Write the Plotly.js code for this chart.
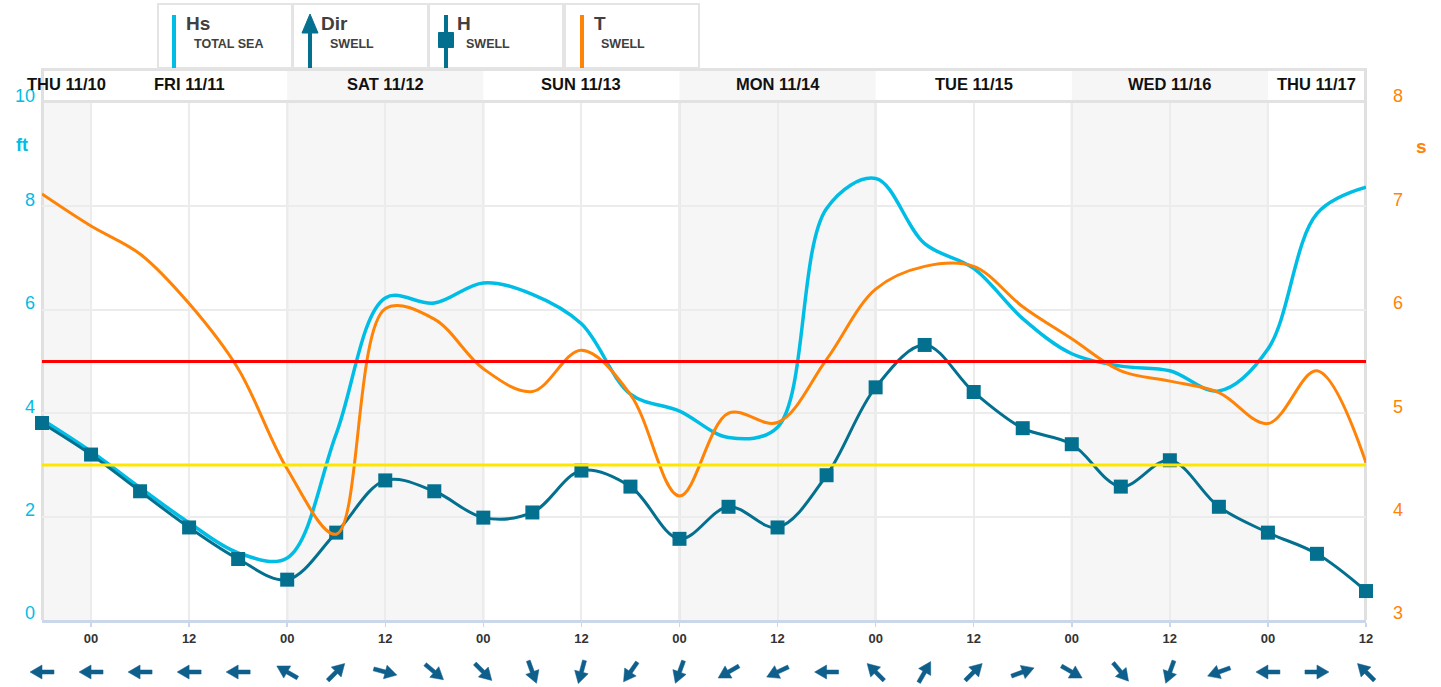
<!DOCTYPE html>
<html>
<head>
<meta charset="utf-8">
<script src="https://cdn.plot.ly/plotly-3.0.1.min.js"></script>
<style>
html,body{margin:0;padding:0;background:#fff;}
#chart{width:1441px;height:687px;}
</style>
</head>
<body>
<div id="chart"></div>
<script>
// ---- data ----
const times = [
 '2022-11-10 18:00',
 '2022-11-11 00:00','2022-11-11 06:00','2022-11-11 12:00','2022-11-11 18:00',
 '2022-11-12 00:00','2022-11-12 06:00','2022-11-12 12:00','2022-11-12 18:00',
 '2022-11-13 00:00','2022-11-13 06:00','2022-11-13 12:00','2022-11-13 18:00',
 '2022-11-14 00:00','2022-11-14 06:00','2022-11-14 12:00','2022-11-14 18:00',
 '2022-11-15 00:00','2022-11-15 06:00','2022-11-15 12:00','2022-11-15 18:00',
 '2022-11-16 00:00','2022-11-16 06:00','2022-11-16 12:00','2022-11-16 18:00',
 '2022-11-17 00:00','2022-11-17 06:00','2022-11-17 12:00'
];
const hsTotal = [3.88,3.26,2.56,1.88,1.3,1.2,3.6,6.23,6.13,6.52,6.3,5.73,4.37,4.04,3.53,3.73,7.96,8.54,7.28,6.8,5.83,5.15,4.91,4.82,4.43,5.24,7.86,8.37];
const hSwell = [3.81,3.2,2.49,1.79,1.18,0.78,1.69,2.7,2.49,1.98,2.08,2.89,2.58,1.57,2.19,1.79,2.8,4.5,5.32,4.41,3.71,3.4,2.58,3.09,2.19,1.69,1.28,0.56];
const tSwell = [7.12,6.81,6.54,6.06,5.43,4.46,3.83,6.01,5.91,5.43,5.21,5.61,5.18,4.2,5.0,4.91,5.52,6.2,6.42,6.42,6.03,5.72,5.41,5.31,5.2,4.9,5.41,4.52];
// direction the arrow points to, compass degrees (0 = up, 90 = right)
const swellDir = [270,270,270,270,270,300,45,105,130,135,160,195,215,200,240,245,270,315,30,45,70,120,140,200,250,270,90,315];
const thresholdRed = [5];
const thresholdYellow = [3];
const dayLabels = ['THU 11/10','FRI 11/11','SAT 11/12','SUN 11/13','MON 11/14','TUE 11/15','WED 11/16','THU 11/17'];
const dayStarts = ['2022-11-10 00:00','2022-11-11 00:00','2022-11-12 00:00','2022-11-13 00:00','2022-11-14 00:00','2022-11-15 00:00','2022-11-16 00:00','2022-11-17 00:00'];
const dayShadedPlot = [true,false,true,false,true,false,true,false];
const dayShadedHead = [false,false,true,false,true,false,true,false];
const xRange = ['2022-11-10 18:00','2022-11-17 12:00'];

// ---- colours / layout helpers ----
const C_HS = '#00bde5', C_H = '#03708f', C_T = '#ff8307', C_DIR = '#0f5f8c';
const FONT = 'Liberation Sans, Arial, sans-serif';
const L = 42, R = 1366, T = 103, B = 620;
const PX = px => (px - L) / (R - L);
const PY = py => (B - py) / (B - T);
const ms = s => Date.parse(s.replace(' ', 'T') + ':00Z');
const toStr = m => new Date(m).toISOString().slice(0, 16).replace('T', ' ');

const shapes = [];
const annotations = [];

// day shading + header
const r0 = ms(xRange[0]), r1 = ms(xRange[1]);
dayStarts.forEach((d, i) => {
  const s = Math.max(ms(d), r0), e = Math.min(ms(d) + 86400000, r1);
  if (dayShadedPlot[i]) shapes.push({type:'rect', xref:'x', yref:'paper', x0:toStr(s), x1:toStr(e), y0:0, y1:1, fillcolor:'#f6f6f6', line:{width:0}, layer:'below'});
  if (dayShadedHead[i]) shapes.push({type:'rect', xref:'x', yref:'paper', x0:toStr(s), x1:toStr(e), y0:PY(101), y1:PY(70), fillcolor:'#f6f6f6', line:{width:0}, layer:'below'});
  if (i > 0) shapes.push({type:'line', xref:'x', yref:'paper', x0:d, x1:d, y0:0, y1:1, line:{color:'#dcdcdc', width:2}, layer:'below'});
  annotations.push({xref:'x', yref:'paper', x:toStr((s + e) / 2), y:PY(84), text:dayLabels[i], showarrow:false,
    font:{family:FONT, size:16.5, color:'#111', weight:'bold'}, xanchor:'center', yanchor:'middle'});
});
// header borders & frame (below traces so end markers sit on top)
shapes.push({type:'line', xref:'paper', yref:'paper', x0:PX(41), x1:PX(1367), y0:PY(69.5), y1:PY(69.5), line:{color:'#e2e2e2', width:3}, layer:'below'});
shapes.push({type:'line', xref:'paper', yref:'paper', x0:PX(41), x1:PX(1367), y0:PY(101.5), y1:PY(101.5), line:{color:'#e2e2e2', width:3}, layer:'below'});
shapes.push({type:'line', xref:'paper', yref:'paper', x0:PX(42.5), x1:PX(42.5), y0:PY(620), y1:PY(69), line:{color:'#e0e0e0', width:3}, layer:'below'});
shapes.push({type:'line', xref:'paper', yref:'paper', x0:PX(1365.5), x1:PX(1365.5), y0:PY(620), y1:PY(69), line:{color:'#e0e0e0', width:3}, layer:'below'});

// thresholds
thresholdRed.forEach(v => shapes.push({type:'line', xref:'paper', yref:'y', x0:0, x1:1, y0:v, y1:v, line:{color:'#ff0000', width:3}, layer:'above'}));
thresholdYellow.forEach(v => shapes.push({type:'line', xref:'paper', yref:'y', x0:0, x1:1, y0:v, y1:v, line:{color:'#ffe600', width:3}, layer:'above'}));

// legend boxes
const boxes = [[158,292],[293,428],[429,563],[565,699]];
boxes.forEach(b => shapes.push({type:'rect', xref:'paper', yref:'paper', x0:PX(b[0]), x1:PX(b[1]), y0:PY(68), y1:PY(4), fillcolor:'#fff', line:{color:'#e4e4e4', width:2}}));
shapes.push({type:'line', xref:'paper', yref:'paper', x0:PX(174), x1:PX(174), y0:PY(68), y1:PY(15), line:{color:C_HS, width:4}});
shapes.push({type:'line', xref:'paper', yref:'paper', x0:PX(310), x1:PX(310), y0:PY(68), y1:PY(30), line:{color:C_H, width:4}});
shapes.push({type:'path', xref:'paper', yref:'paper', path:`M ${PX(302)} ${PY(33)} L ${PX(318)} ${PY(33)} L ${PX(310)} ${PY(14)} Z`, fillcolor:C_H, line:{color:C_H, width:1}});
shapes.push({type:'line', xref:'paper', yref:'paper', x0:PX(446), x1:PX(446), y0:PY(68), y1:PY(15), line:{color:C_H, width:4}});
shapes.push({type:'rect', xref:'paper', yref:'paper', x0:PX(438.5), x1:PX(453.5), y0:PY(47.5), y1:PY(32.5), fillcolor:C_H, line:{color:C_H, width:1}});
shapes.push({type:'line', xref:'paper', yref:'paper', x0:PX(582), x1:PX(582), y0:PY(68), y1:PY(15), line:{color:C_T, width:4}});
const legTitles = [['Hs',184],['Dir',319],['H',455],['T',592]];
const legSubs = [['TOTAL SEA',192],['SWELL',328],['SWELL',464],['SWELL',599]];
legTitles.forEach(t => annotations.push({xref:'paper', yref:'paper', x:PX(t[1]), y:PY(23), text:t[0], showarrow:false, xanchor:'left', yanchor:'middle', font:{family:FONT, size:19, color:'#404040', weight:'bold'}}));
legSubs.forEach(t => annotations.push({xref:'paper', yref:'paper', x:PX(t[1]), y:PY(44), text:t[0], showarrow:false, xanchor:'left', yanchor:'middle', font:{family:FONT, size:12.5, color:'#404040', weight:'bold'}}));

// axis unit labels
annotations.push({xref:'paper', yref:'paper', x:PX(22), y:PY(145), text:'ft', showarrow:false, xanchor:'center', yanchor:'middle', font:{family:FONT, size:18, color:C_HS, weight:'bold'}});
annotations.push({xref:'paper', yref:'paper', x:PX(1421), y:PY(146), text:'s', showarrow:false, xanchor:'center', yanchor:'middle', font:{family:FONT, size:19, color:C_T, weight:'bold'}});

const traces = [
  {x:times, y:hsTotal, type:'scatter', mode:'lines', line:{color:C_HS, width:3.5, shape:'spline', smoothing:1}, hoverinfo:'skip'},
  {x:times, y:tSwell, type:'scatter', mode:'lines', yaxis:'y2', line:{color:C_T, width:3, shape:'spline', smoothing:1}, hoverinfo:'skip'},
  {x:times, y:hSwell, type:'scatter', mode:'lines+markers', cliponaxis:false, line:{color:C_H, width:3, shape:'spline', smoothing:1},
   marker:{symbol:'square', size:14, color:C_H}, hoverinfo:'skip'}
];

const layout = {
  width:1441, height:687,
  margin:{l:L, r:1441 - R, t:T, b:687 - B},
  paper_bgcolor:'#fff', plot_bgcolor:'rgba(0,0,0,0)',
  showlegend:false,
  font:{family:FONT},
  xaxis:{type:'date', range:xRange, tick0:'2022-11-11 00:00', dtick:43200000, tickformat:'%H',
    tickfont:{family:FONT, size:13, color:'#333', weight:'bold'},
    showgrid:true, gridcolor:'#ececec', gridwidth:2, zeroline:false,
    showline:true, linecolor:'#ccd6eb', linewidth:3, ticks:'outside', tickcolor:'#ccd6eb', ticklen:4, tickwidth:1.5,
    fixedrange:true},
  yaxis:{range:[0,10], dtick:2, showgrid:true, gridcolor:'#ececec', gridwidth:2, zeroline:false, showline:false,
    ticks:'', tickfont:{family:FONT, size:18, color:C_HS}, ticklabelstandoff:6, ticklabelshift:-7, fixedrange:true},
  yaxis2:{range:[3,8], dtick:1, overlaying:'y', side:'right', showgrid:false, zeroline:false, showline:false,
    ticks:'', tickfont:{family:FONT, size:18, color:C_T}, ticklabelstandoff:26, ticklabelshift:-7, fixedrange:true},
  shapes:shapes,
  annotations:annotations
};

// direction arrows: pixel-sized path shapes, positioned with the library's own x scale (unclipped, paper-referenced)
const arrowLocal = [[-12,-2],[0,-2],[0,-7],[12,0],[0,7],[0,2],[-12,2]];
Plotly.newPlot('chart', traces, layout, {displayModeBar:false, staticPlot:true}).then(gd => {
  const xa = gd._fullLayout.xaxis;
  const arrowShapes = times.map((t, i) => {
    const a = swellDir[i] * Math.PI / 180;
    const d = [Math.sin(a), Math.cos(a)], n = [-Math.cos(a), Math.sin(a)];
    const pts = arrowLocal.map(p => [p[0] * d[0] + p[1] * n[0], p[0] * d[1] + p[1] * n[1]]);
    const path = 'M ' + pts.map(p => p[0].toFixed(2) + ' ' + p[1].toFixed(2)).join(' L ') + ' Z';
    return {type:'path', xref:'paper', yref:'paper', xsizemode:'pixel', ysizemode:'pixel',
      xanchor: xa.d2p(t) / xa._length, yanchor: PY(672),
      path:path, fillcolor:C_DIR, line:{color:C_DIR, width:0.5}};
  });
  return Plotly.relayout(gd, {shapes: shapes.concat(arrowShapes)});
});
</script>
</body>
</html>
